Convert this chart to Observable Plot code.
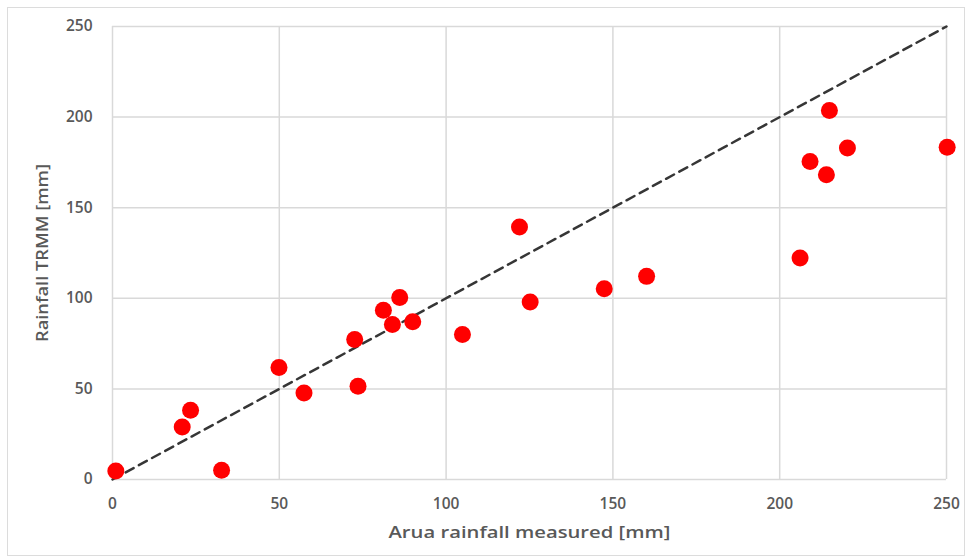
<!DOCTYPE html>
<html>
<head>
<meta charset="utf-8">
<script src="https://cdn.jsdelivr.net/npm/d3@7"></script>
<script src="https://cdn.jsdelivr.net/npm/@observablehq/plot@0.6"></script>
<style>
  html, body { margin: 0; padding: 0; background: #fff; }
  #wrap { position: relative; width: 969px; height: 560px; }
  #border { position: absolute; left: 7px; top: 7px; width: 958px; height: 549px; border: 1.5px solid #dcdcdc; box-sizing: border-box; pointer-events: none; }
  svg text { font-family: "Open Sans", "Noto Sans", sans-serif; }
</style>
</head>
<body>
<div id="wrap"><div id="border"></div></div>
<script>
// Arua rainfall measured [mm] (x) vs TRMM rainfall [mm] (y)
const measured = [1, 20.9, 23.4, 32.7, 49.9, 57.4, 72.6, 73.6, 81.2, 83.9, 86.1, 90, 104.9, 125.2, 147.4, 160.1, 122, 206.1, 209.1, 214, 214.9, 220.3, 250.2];
const trmm     = [4.7, 29, 38.2, 5.1, 61.8, 47.8, 77.2, 51.5, 93.4, 85.5, 100.5, 87.1, 80, 97.9, 105.3, 112.1, 139.3, 122.2, 175.5, 168.2, 203.7, 182.9, 183.4];
const lineOfEquality = [0, 250];
const ticks = [0, 50, 100, 150, 200, 250];

const points = measured.map((m, i) => ({x: m, y: trmm[i]}));
const oneToOne = lineOfEquality.map(v => ({x: v, y: v}));

const chart = Plot.plot({
  width: 969,
  height: 560,
  marginLeft: 112,
  marginRight: 23,
  marginTop: 26,
  marginBottom: 81,
  style: {fontSize: "15.5px", color: "#595959", fontFamily: "Open Sans, sans-serif", background: "transparent"},
  x: {domain: [0, 250]},
  y: {domain: [0, 250]},
  marks: [
    Plot.gridX(ticks, {stroke: "#d9d9d9", strokeOpacity: 1, strokeWidth: 1.5}),
    Plot.gridY(ticks, {stroke: "#d9d9d9", strokeOpacity: 1, strokeWidth: 1.5}),
    Plot.axisX(ticks, {tickSize: 0, tickPadding: 18, fill: "#595959", fontWeight: 600, label: "Arua rainfall measured [mm]", labelAnchor: "center", labelOffset: 58, labelArrow: "none"}),
    Plot.axisY(ticks, {tickSize: 0, tickPadding: 20, fill: "#595959", fontWeight: 600, label: "Rainfall TRMM [mm]", labelAnchor: "center", labelOffset: 76, labelArrow: "none"}),
    Plot.line(oneToOne, {x: "x", y: "y", stroke: "#363636", strokeWidth: 2.5, strokeDasharray: "9,6"}),
    Plot.dot(points, {x: "x", y: "y", r: 8.5, fill: "#ff0000", stroke: "none"})
  ]
});
d3.select(chart).selectAll("[aria-label='x-axis label'] text")
  .style("font-size", "17px").style("font-weight", "600").style("fill", "#595959")
  .attr("textLength", 282).attr("lengthAdjust", "spacingAndGlyphs");
d3.select(chart).selectAll("[aria-label='y-axis label'] text")
  .style("font-size", "16.5px").style("font-weight", "600").style("fill", "#595959")
  .attr("textLength", 178).attr("lengthAdjust", "spacingAndGlyphs");
document.getElementById("wrap").prepend(chart);
</script>
</body>
</html>
